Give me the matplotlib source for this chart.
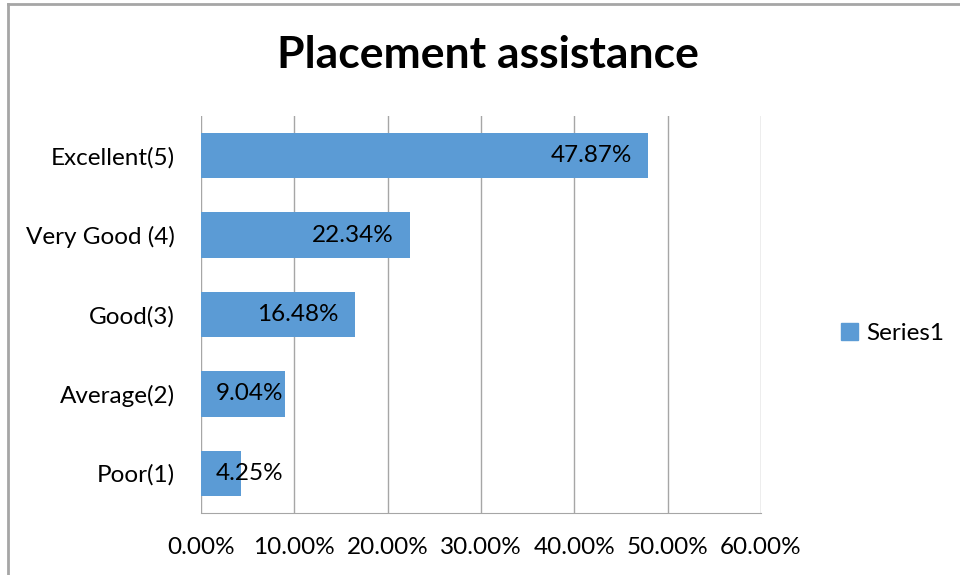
import matplotlib
matplotlib.use('Agg')
import matplotlib.pyplot as plt
import matplotlib.patches as mpatches
from matplotlib.lines import Line2D
from matplotlib.transforms import offset_copy

plt.rcParams['font.family'] = ['Lato', 'DejaVu Sans']

# data
categories = ['Poor(1)', 'Average(2)', 'Good(3)', 'Very Good (4)', 'Excellent(5)']
values = [4.25, 9.04, 16.48, 22.34, 47.87]
xticks = [0, 10, 20, 30, 40, 50, 60]
bar_color = '#5B9BD5'
fs = 17.5

fig = plt.figure(figsize=(9.6, 5.75), dpi=100)
ax = fig.add_axes([0.2094, 0.1078, 0.5833, 0.6905])

ypos = range(len(categories))
ax.barh(ypos, values, height=0.57, color=bar_color, zorder=3)

# data labels, inside end like excel, short bars start from the base
for y, v in zip(ypos, values):
    txt = '%.2f%%' % v
    if v < 10:
        tr = offset_copy(ax.transData, fig=fig, x=15, y=0, units='dots')
        ax.text(0, y, txt, transform=tr, ha='left', va='center', fontsize=fs, zorder=4)
    else:
        tr = offset_copy(ax.transData, fig=fig, x=-16, y=0, units='dots')
        ax.text(v, y, txt, transform=tr, ha='right', va='center', fontsize=fs, zorder=4)

ax.set_xlim(0, 60)
ax.set_ylim(-0.5, 4.5)
ax.set_xticks(xticks)
ax.set_xticklabels(['%.2f%%' % t for t in xticks], fontsize=fs)
ax.set_yticks(list(ypos))
ax.set_yticklabels(categories, fontsize=fs)
ax.tick_params(length=0)
ax.tick_params(axis='x', pad=17)
ax.tick_params(axis='y', pad=19)

ax.grid(axis='x', color='#A6A6A6', linewidth=1, zorder=0)
for s in ['top', 'right', 'left']:
    ax.spines[s].set_visible(False)
ax.spines['bottom'].set_color('#A6A6A6')
ax.spines['bottom'].set_zorder(5)

fig.text(0.508, 0.905, 'Placement assistance', ha='center', va='center',
         fontsize=32, fontweight='bold')

leg_patch = mpatches.Patch(color=bar_color, label='Series1')
fig.legend(handles=[leg_patch], loc='center left', bbox_to_anchor=(0.853, 0.42),
           frameon=False, fontsize=fs, handlelength=0.7, handleheight=0.7,
           handletextpad=0.35)

# chart area border (only top and left visible in the crop)
fig.add_artist(Line2D([8 / 960, 8 / 960], [0, 1 - 4 / 575], transform=fig.transFigure,
                      color='#A6A6A6', linewidth=2))
fig.add_artist(Line2D([8 / 960, 1], [1 - 4 / 575, 1 - 4 / 575], transform=fig.transFigure,
                      color='#A6A6A6', linewidth=2))

fig.savefig('out.png', dpi=100)
